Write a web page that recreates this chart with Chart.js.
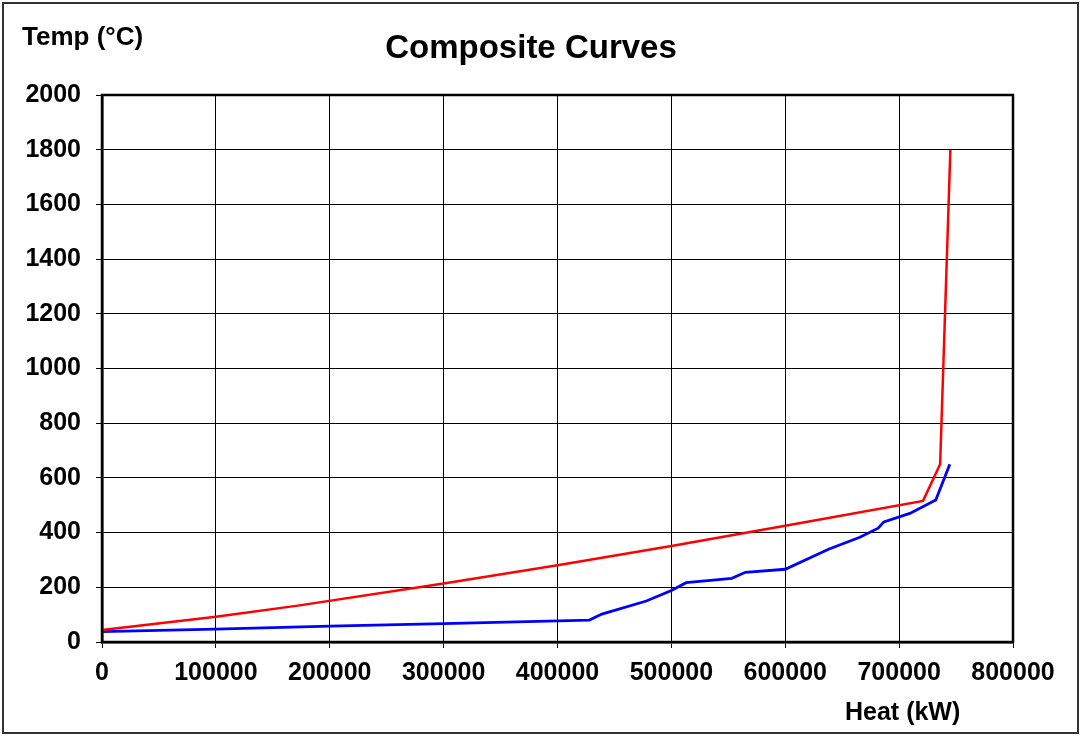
<!DOCTYPE html>
<html>
<head>
<meta charset="utf-8">
<script src="https://cdn.jsdelivr.net/npm/chart.js@4/dist/chart.umd.min.js"></script>
<style>
	html, body { margin: 0; padding: 0; background: #fff; }
	#wrap { position: relative; width: 1081px; height: 736px; }
</style>
</head>
<body>
<div id="wrap"><canvas id="chart" width="1081" height="736"></canvas></div>
<script>
// hot composite curve
const hotHeat = [0, 100000, 172000, 300000, 400000, 500000, 600000, 721000, 736000, 745000];
const hotTemp = [44, 92, 133, 214, 281, 351, 425, 516, 650, 1800];

// cold composite curve
const coldHeat = [0, 100000, 200000, 300000, 428000, 439000, 478000, 500000, 513000, 553000, 565000, 600000, 638000, 665500, 681600, 686600, 709400, 732200, 744500];
const coldTemp = [38, 47, 58, 67, 80, 102, 150, 188, 217, 233, 255, 266, 339, 383, 416, 439, 470, 519, 650];

const xTicks = [0, 100000, 200000, 300000, 400000, 500000, 600000, 700000, 800000];
const yTicks = [0, 200, 400, 600, 800, 1000, 1200, 1400, 1600, 1800, 2000];

const FONT = "'Liberation Sans', Arial, sans-serif";

function toPoints (xs, ys) {
	return xs.map((x, i) => ({ x: x, y: ys[i] }));
}

// frame, title and axis captions
const decorations = {
	id: "decorations",
	beforeDraw (chart) {
		const ctx = chart.ctx;
		ctx.save();
		ctx.fillStyle = "#fff";
		ctx.fillRect(0, 0, chart.width, chart.height);
		ctx.restore();
	},
	afterDraw (chart) {
		const ctx = chart.ctx;
		const a = chart.chartArea;
		ctx.save();
		ctx.strokeStyle = "#000";
		ctx.lineWidth = 2.5;
		ctx.strokeRect(a.left, a.top, a.right - a.left, a.bottom - a.top);
		ctx.strokeStyle = "#333";
		ctx.lineWidth = 2;
		ctx.strokeRect(3, 3, chart.width - 6, chart.height - 6);
		ctx.fillStyle = "#000";
		ctx.textBaseline = "middle";
		ctx.font = "bold 33px " + FONT;
		ctx.textAlign = "center";
		ctx.fillText("Composite Curves", 531, 49);
		ctx.font = "bold 26px " + FONT;
		ctx.textAlign = "left";
		ctx.fillText("Temp (°C)", 22, 38);
		ctx.font = "bold 25px " + FONT;
		ctx.fillText("Heat (kW)", 845, 713);
		ctx.restore();
	}
};

new Chart(document.getElementById("chart"), {
	type: "line",
	data: {
		datasets: [
			{
				label: "Hot",
				data: toPoints(hotHeat, hotTemp),
				borderColor: "#ff0000",
				borderWidth: 2.5,
				pointRadius: 0,
				tension: 0
			},
			{
				label: "Cold",
				data: toPoints(coldHeat, coldTemp),
				borderColor: "#0000ff",
				borderWidth: 2.8,
				pointRadius: 0,
				tension: 0
			}
		]
	},
	options: {
		responsive: false,
		animation: false,
		layout: { padding: { top: 95, right: 68, left: 0, bottom: 0 } },
		plugins: {
			legend: { display: false },
			title: { display: false },
			tooltip: { enabled: false }
		},
		scales: {
			x: {
				type: "linear",
				min: 0,
				max: 800000,
				afterBuildTicks (s) { s.ticks = xTicks.map(v => ({ value: v })); },
				afterFit (s) { s.height = 94; },
				grid: { color: "#000", lineWidth: 1, tickLength: 6 },
				border: { color: "#000", width: 2.5 },
				ticks: {
					color: "#000",
					padding: 10,
					maxRotation: 0,
					font: { family: FONT, size: 25, weight: "bold" },
					callback: v => String(v)
				}
			},
			y: {
				min: 0,
				max: 2000,
				afterBuildTicks (s) { s.ticks = yTicks.map(v => ({ value: v })); },
				afterFit (s) { s.width = 102; },
				grid: { color: "#000", lineWidth: 1, tickLength: 6 },
				border: { color: "#000", width: 2.5 },
				ticks: {
					color: "#000",
					padding: 15,
					font: { family: FONT, size: 25, weight: "bold" },
					callback: v => String(v)
				}
			}
		}
	},
	plugins: [decorations]
});
</script>
</body>
</html>
